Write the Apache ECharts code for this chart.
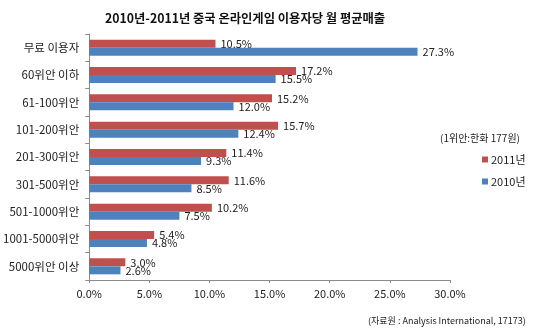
<!DOCTYPE html>
<html><head><meta charset="utf-8">
<script src="https://cdn.jsdelivr.net/npm/echarts@6/dist/echarts.min.js"></script>
<style>html,body{margin:0;padding:0;background:#fff}#c{width:550px;height:332px}</style>
</head><body><div id="c"></div>
<script>
const categories = ['무료 이용자','60위안 이하','61-100위안','101-200위안','201-300위안','301-500위안','501-1000위안','1001-5000위안','5000위안 이상'];
const values2011 = [10.5,17.2,15.2,15.7,11.4,11.6,10.2,5.4,3.0];
const values2010 = [27.3,15.5,12.0,12.4,9.3,8.5,7.5,4.8,2.6];
const xTicks = [0,5,10,15,20,25,30];
const FONT = '"Noto Sans CJK KR", "Noto Sans", sans-serif';
const chart = echarts.init(document.getElementById('c'));
const lbl = {show:true, position:'right', distance:5, color:'#222', fontSize:11, fontFamily:FONT, formatter:p=>p.value.toFixed(1)+'%'};
chart.setOption({
  animation:false,
  textStyle:{fontFamily:FONT},
  title:[
    {text:'2010년-2011년 중국 온라인게임 이용자당 월 평균매출', left:100, top:7, textStyle:{fontSize:12.3, fontWeight:'bold', color:'#111', fontFamily:FONT}},
    {text:'(1위안:한화 177원)', left:435, top:128, textStyle:{fontSize:10, fontWeight:'normal', color:'#222', fontFamily:FONT}},
    {text:'(자료원 : Analysis International, 17173)', left:363, top:311, textStyle:{fontSize:9, fontWeight:'normal', color:'#222', fontFamily:FONT}}
  ],
  legend:{orient:'vertical', left:477, top:149, itemWidth:6, itemHeight:6, itemGap:11, icon:'rect',
    textStyle:{fontSize:11, color:'#222', fontFamily:FONT, padding:[0,0,0,-2]},
    data:['2011년','2010년']},
  grid:{left:89, right:100, top:34, bottom:52, containLabel:false},
  xAxis:{type:'value', min:0, max:30, interval:5,
    axisLine:{show:true, lineStyle:{color:'#8c8c8c'}},
    axisTick:{show:true, length:3, lineStyle:{color:'#8c8c8c'}},
    splitLine:{show:false},
    axisLabel:{fontSize:11, color:'#222', margin:8, fontFamily:FONT, formatter:v=>v.toFixed(1)+'%'}},
  yAxis:{type:'category', data:categories, inverse:true,
    axisLine:{show:true, lineStyle:{color:'#8c8c8c'}},
    axisTick:{show:true, length:4, lineStyle:{color:'#8c8c8c'}},
    axisLabel:{fontSize:11.5, color:'#222', margin:10, fontFamily:FONT}},
  series:[
    {name:'2011년', type:'bar', data:values2011, barWidth:8, barGap:'0%', itemStyle:{color:'#C0504D'}, label:lbl},
    {name:'2010년', type:'bar', data:values2010, barWidth:8, barGap:'0%', itemStyle:{color:'#4F81BD'}, label:lbl}
  ]
});
</script></body></html>
